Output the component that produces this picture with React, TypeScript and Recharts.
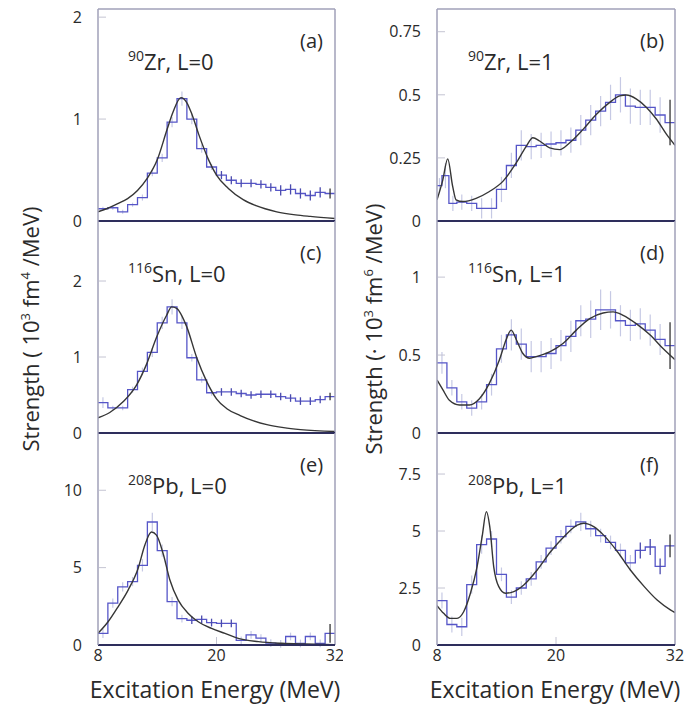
import React from 'react';
import {
  ComposedChart,
  Line,
  Scatter,
  ErrorBar,
  XAxis,
  YAxis,
  ReferenceLine,
} from 'recharts';

// Strength distributions for 90Zr / 116Sn / 208Pb, L=0 and L=1.
// Blue step histogram = measured strength per 1 MeV bin, black = fitted curve.

const FONT = '"Open Sans", "DejaVu Sans", sans-serif';

const energyTicks = [8, 20, 32];
const binEdges = [8, 9, 10, 11, 12, 13, 14, 15, 16, 17, 18, 19, 20, 21, 22, 23, 24, 25, 26, 27, 28, 29, 30, 31, 32];

// (a) 90Zr, L=0
const zr0Hist = [0.12, 0.13, 0.09, 0.16, 0.23, 0.47, 0.62, 0.97, 1.2, 1.0, 0.71, 0.53, 0.45, 0.4, 0.37, 0.37, 0.36, 0.33, 0.3, 0.31, 0.27, 0.25, 0.28, 0.27];
const zr0Err = [0.02, 0.02, 0.02, 0.02, 0.03, 0.03, 0.04, 0.05, 0.07, 0.05, 0.04, 0.03, 0.04, 0.04, 0.04, 0.04, 0.04, 0.04, 0.05, 0.05, 0.05, 0.05, 0.05, 0.05];
const zr0FitE = [8, 9, 10, 11, 12, 13, 14, 15, 15.6, 16.4, 17, 17.5, 18.2, 19.2, 20, 21.2, 22.7, 24, 26.1, 28, 29.5, 32];
const zr0FitS = [0.09, 0.125, 0.17, 0.22, 0.3, 0.42, 0.6, 0.9, 1.07, 1.21, 1.16, 1.05, 0.85, 0.6, 0.45, 0.32, 0.21, 0.15, 0.09, 0.06, 0.045, 0.025];

// (b) 90Zr, L=1
const zr1Edges = [8, 8.5, 9.2, 10, 11, 12, 13, 14, 15, 16, 17, 18, 19, 20, 21, 22, 23, 24, 25, 26, 27, 28, 29, 30, 31, 32];
const zr1Hist = [0.14, 0.18, 0.07, 0.075, 0.07, 0.05, 0.05, 0.125, 0.22, 0.3, 0.295, 0.3, 0.305, 0.31, 0.32, 0.36, 0.4, 0.435, 0.47, 0.5, 0.455, 0.45, 0.45, 0.42, 0.39];
const zr1Err = [0.03, 0.05, 0.03, 0.03, 0.03, 0.04, 0.04, 0.05, 0.05, 0.06, 0.05, 0.05, 0.05, 0.05, 0.05, 0.06, 0.06, 0.06, 0.07, 0.07, 0.07, 0.07, 0.07, 0.07, 0.09];
const zr1FitE = [8, 8.57, 9.08, 9.58, 9.92, 10.6, 11.94, 13.29, 14.64, 15.99, 17, 17.67, 18.35, 19.36, 20.37, 21.38, 22.73, 24.08, 25.42, 26.44, 27.1, 28.12, 29.13, 30.14, 31.15, 32];
const zr1FitS = [0.084, 0.16, 0.246, 0.137, 0.084, 0.077, 0.09, 0.117, 0.157, 0.23, 0.296, 0.33, 0.317, 0.29, 0.283, 0.31, 0.363, 0.423, 0.47, 0.496, 0.499, 0.483, 0.45, 0.403, 0.343, 0.3];

// (c) 116Sn, L=0
const sn0Hist = [0.4, 0.33, 0.33, 0.57, 0.81, 1.06, 1.45, 1.66, 1.45, 0.99, 0.7, 0.53, 0.54, 0.54, 0.52, 0.5, 0.51, 0.51, 0.48, 0.46, 0.42, 0.42, 0.44, 0.48];
const sn0Err = [0.07, 0.03, 0.03, 0.04, 0.05, 0.06, 0.08, 0.1, 0.08, 0.05, 0.04, 0.04, 0.05, 0.05, 0.05, 0.05, 0.05, 0.05, 0.05, 0.05, 0.05, 0.05, 0.05, 0.05];
const sn0FitE = [8, 9.19, 10.54, 11.9, 12.9, 13.93, 14.95, 15.46, 15.97, 16.98, 18, 19, 20, 21.05, 22.4, 23.76, 25.1, 26.8, 28.5, 32];
const sn0FitS = [0.2, 0.27, 0.41, 0.63, 0.9, 1.26, 1.55, 1.66, 1.64, 1.4, 0.99, 0.68, 0.45, 0.32, 0.23, 0.16, 0.11, 0.07, 0.045, 0.02];

// (d) 116Sn, L=1
const sn1Hist = [0.45, 0.29, 0.2, 0.16, 0.2, 0.31, 0.54, 0.63, 0.57, 0.49, 0.49, 0.51, 0.56, 0.62, 0.72, 0.73, 0.79, 0.79, 0.72, 0.69, 0.7, 0.66, 0.6, 0.56];
const sn1Err = [0.07, 0.05, 0.05, 0.05, 0.05, 0.07, 0.09, 0.1, 0.1, 0.1, 0.1, 0.1, 0.1, 0.1, 0.1, 0.12, 0.13, 0.12, 0.1, 0.1, 0.1, 0.1, 0.1, 0.15];
const sn1FitE = [8, 8.57, 9.25, 10.26, 11.27, 12.28, 13.29, 14.3, 14.98, 15.48, 15.99, 16.66, 17.34, 18, 19.36, 20.7, 22.05, 23.4, 24.75, 25.76, 26.77, 28.12, 29.47, 30.82, 32];
const sn1FitS = [0.34, 0.28, 0.21, 0.18, 0.18, 0.22, 0.32, 0.47, 0.6, 0.66, 0.6, 0.51, 0.48, 0.49, 0.52, 0.574, 0.66, 0.734, 0.77, 0.777, 0.755, 0.7, 0.63, 0.54, 0.47];

// (e) 208Pb, L=0
const pb0Hist = [0.75, 2.7, 3.75, 4.1, 5.15, 7.95, 6.1, 2.8, 1.7, 1.6, 1.65, 1.45, 1.4, 1.4, 0.3, 0.65, 0.45, 0.12, 0.08, 0.55, 0.1, 0.55, 0.1, 0.75];
const pb0Err = [0.3, 0.3, 0.3, 0.3, 0.4, 0.6, 0.4, 0.3, 0.25, 0.25, 0.25, 0.25, 0.25, 0.25, 0.25, 0.25, 0.25, 0.25, 0.25, 0.25, 0.25, 0.25, 0.25, 0.6];
const pb0FitE = [8, 9.02, 10.03, 11.05, 12.06, 12.74, 13.41, 13.92, 14.6, 15.28, 16.12, 17.14, 18.15, 19.5, 20.86, 22.2, 24.24, 26.6, 28.98, 32];
const pb0FitS = [0.75, 1.5, 2.47, 3.55, 4.95, 6.45, 7.3, 7.1, 5.9, 4.2, 2.9, 2.04, 1.5, 1.07, 0.75, 0.43, 0.22, 0.11, 0.06, 0.02];

// (f) 208Pb, L=1
const pb1Hist = [1.95, 0.9, 0.8, 2.65, 4.4, 4.65, 3.1, 2.1, 2.5, 2.9, 3.65, 4.25, 4.75, 5.2, 5.4, 5.1, 4.8, 4.5, 4.15, 3.6, 4.15, 4.3, 3.45, 4.35];
const pb1Err = [0.35, 0.35, 0.4, 0.4, 0.4, 0.35, 0.3, 0.3, 0.3, 0.3, 0.3, 0.3, 0.3, 0.3, 0.4, 0.35, 0.3, 0.3, 0.3, 0.35, 0.35, 0.35, 0.35, 0.5];
const pb1FitE = [8, 8.67, 9.35, 10.02, 10.69, 11.37, 12.04, 12.55, 12.98, 13.32, 13.72, 14.23, 14.9, 15.74, 16.75, 18.1, 19.45, 20.8, 22.14, 22.8, 23.8, 24.8, 26.2, 27.5, 28.9, 30.2, 31.57, 32];
const pb1FitS = [1.73, 1.39, 1.17, 1.17, 1.46, 2.27, 3.43, 4.75, 5.85, 5.19, 3.43, 2.56, 2.27, 2.34, 2.63, 3.29, 4.09, 4.75, 5.26, 5.34, 5.19, 4.82, 4.09, 3.29, 2.56, 1.97, 1.53, 1.42];

const HIST = '#5656c8';
const FIT = '#363636';
const FRAME = '#a0a0b8';
const ZERO = '#2e2e5c';
const ERR_FAINT = '#c6c9e4';
const ERR_DARK = '#4a4aae';
const ERR_LAST = '#333333';
const TEXT = '#2a2a2a';

const PLOT_TOP = 9;
const PLOT_H = 212;
const Y_GAP = 16;

const panels = [
  { id: '(a)', iso: '90', el: 'Zr', L: 'L=0', col: 0, row: 0, edges: binEdges, hist: zr0Hist, err: zr0Err, fitE: zr0FitE, fitS: zr0FitS, yMax: 2.08, yTicks: [0, 1, 2], dark: [20, 31] },
  { id: '(b)', iso: '90', el: 'Zr', L: 'L=1', col: 1, row: 0, edges: zr1Edges, hist: zr1Hist, err: zr1Err, fitE: zr1FitE, fitS: zr1FitS, yMax: 0.84, yTicks: [0, 0.25, 0.5, 0.75], dark: [99, 99] },
  { id: '(c)', iso: '116', el: 'Sn', L: 'L=0', col: 0, row: 1, edges: binEdges, hist: sn0Hist, err: sn0Err, fitE: sn0FitE, fitS: sn0FitS, yMax: 2.79, yTicks: [0, 1, 2], dark: [20, 31] },
  { id: '(d)', iso: '116', el: 'Sn', L: 'L=1', col: 1, row: 1, edges: binEdges, hist: sn1Hist, err: sn1Err, fitE: sn1FitE, fitS: sn1FitS, yMax: 1.36, yTicks: [0, 0.5, 1], dark: [99, 99] },
  { id: '(e)', iso: '208', el: 'Pb', L: 'L=0', col: 0, row: 2, edges: binEdges, hist: pb0Hist, err: pb0Err, fitE: pb0FitE, fitS: pb0FitS, yMax: 13.7, yTicks: [0, 5, 10], dark: [17, 21] },
  { id: '(f)', iso: '208', el: 'Pb', L: 'L=1', col: 1, row: 2, edges: binEdges, hist: pb1Hist, err: pb1Err, fitE: pb1FitE, fitS: pb1FitS, yMax: 9.3, yTicks: [0, 2.5, 5, 7.5], dark: [28, 30] },
];

type PanelCfg = (typeof panels)[number];

function YTick(props: any) {
  const { x, y, payload } = props;
  const axisX = x + Y_GAP;
  return (
    <g>
      <text x={x} y={y} dy="0.36em" textAnchor="end" fontSize={16} fill={TEXT} fontFamily={FONT}>
        {payload.value}
      </text>
      {payload.value !== 0 && (
        <line x1={axisX + 1} x2={axisX + 8} y1={y} y2={y} stroke="#c4c4d2" strokeWidth={1} />
      )}
    </g>
  );
}

function XTick(props: any) {
  const { x, y, payload } = props;
  const axisY = y - 5;
  return (
    <g>
      <text x={x} y={y} dy="0.71em" textAnchor="middle" fontSize={16} fill={TEXT} fontFamily={FONT}>
        {payload.value}
      </text>
      {payload.value !== 8 && payload.value !== 32 && (
        <line x1={x} x2={x} y1={axisY - 1} y2={axisY - 8} stroke="#c4c4d2" strokeWidth={1} />
      )}
    </g>
  );
}

const noDot = () => <g />;

function Panel({ p }: { p: PanelCfg }) {
  const bottom = p.row === 2;
  const left = p.col === 0 ? 0 : 343;
  const yAxisW = p.col === 0 ? 98 : 94;
  const rightM = p.col === 0 ? 8 : 11;
  const xAxisH = bottom ? 30 : 0;
  const bottomM = 16;
  const height = PLOT_TOP + PLOT_H + xAxisH + bottomM;

  const steps = p.hist.map((v, i) => ({ x: p.edges[i], y: v }));
  steps.push({ x: p.edges[p.edges.length - 1], y: p.hist[p.hist.length - 1] });

  const bars = p.hist.map((v, i) => ({
    x: (p.edges[i] + p.edges[i + 1]) / 2,
    y: v,
    err: p.err[i],
    lo: p.edges[i],
  }));
  const last = bars.slice(-1);
  const body = bars.slice(0, -1);
  const inDark = (b: { lo: number }) => b.lo >= p.dark[0] && b.lo <= p.dark[1];
  const darkBars = body.filter(inDark);
  const faintBars = body.filter((b) => !inDark(b));

  const fit = p.fitE.map((e, i) => ({ x: e, y: p.fitS[i] }));

  return (
    <div style={{ position: 'absolute', left, top: p.row * PLOT_H }}>
      <ComposedChart
        width={343}
        height={height}
        margin={{ top: PLOT_TOP, right: rightM, bottom: bottomM, left: 0 }}
      >
        <XAxis
          type="number"
          dataKey="x"
          domain={[8, 32]}
          ticks={energyTicks}
          hide={!bottom}
          height={xAxisH}
          axisLine={false}
          tickSize={0}
          tickMargin={5}
          tick={<XTick />}
          allowDataOverflow
        />
        <YAxis
          type="number"
          dataKey="y"
          domain={[0, p.yMax]}
          ticks={p.yTicks}
          width={yAxisW}
          axisLine={{ stroke: FRAME, strokeWidth: 1.5 }}
          tickSize={0}
          tickMargin={Y_GAP}
          tick={<YTick />}
          allowDataOverflow
        />

        <Scatter data={faintBars} dataKey="y" shape={noDot} isAnimationActive={false}>
          <ErrorBar dataKey="err" direction="y" width={0} stroke={ERR_FAINT} strokeWidth={1.2} isAnimationActive={false} />
        </Scatter>

        <Line
          data={steps}
          dataKey="y"
          type="stepAfter"
          stroke={HIST}
          strokeWidth={1.3}
          dot={false}
          activeDot={false}
          isAnimationActive={false}
        />

        <Scatter data={darkBars} dataKey="y" shape={noDot} isAnimationActive={false}>
          <ErrorBar dataKey="err" direction="y" width={0} stroke={ERR_DARK} strokeWidth={1.3} isAnimationActive={false} />
        </Scatter>
        <Scatter data={last} dataKey="y" shape={noDot} isAnimationActive={false}>
          <ErrorBar dataKey="err" direction="y" width={0} stroke={ERR_LAST} strokeWidth={1.3} isAnimationActive={false} />
        </Scatter>

        <Line
          data={fit}
          dataKey="y"
          type="monotone"
          stroke={FIT}
          strokeWidth={1.4}
          dot={false}
          activeDot={false}
          isAnimationActive={false}
        />

        <ReferenceLine x={32} stroke={FRAME} strokeWidth={1.5} />
        {p.row === 0 && <ReferenceLine y={p.yMax} stroke={FRAME} strokeWidth={1.5} />}
        <ReferenceLine y={0} stroke={ZERO} strokeWidth={2} />
      </ComposedChart>
    </div>
  );
}

function Sup({ children, size = 13 }: { children: React.ReactNode; size?: number }) {
  return (
    <tspan fontSize={size} dy={-9}>
      {children}
    </tspan>
  );
}

export default function App() {
  return (
    <div
      style={{
        position: 'absolute',
        left: 0,
        top: 0,
        width: 686,
        height: 706,
        overflow: 'hidden',
        background: '#fff',
        fontFamily: FONT,
      }}
    >
      {panels.map((p) => (
        <Panel key={p.id} p={p} />
      ))}

      <svg
        width={686}
        height={706}
        style={{ position: 'absolute', left: 0, top: 0, pointerEvents: 'none' }}
        fontFamily={FONT}
        fill={TEXT}
      >
        {panels.map((p) => {
          const ox = p.col === 0 ? 0 : 340;
          const oy = p.row * PLOT_H;
          return (
            <g key={p.id}>
              <text x={128 + ox} y={70 + oy} fontSize={22}>
                <Sup size={14}>{p.iso}</Sup>
                <tspan dy={9}>{`${p.el}, ${p.L}`}</tspan>
              </text>
              <text x={300 + ox} y={48 + oy} fontSize={20}>
                {p.id}
              </text>
            </g>
          );
        })}

        <text transform="translate(39,329) rotate(-90)" textAnchor="middle" fontSize={22}>
          Strength ( 10<Sup>3</Sup>
          <tspan dy={9}> fm</tspan>
          <Sup>4</Sup>
          <tspan dy={9}> /MeV)</tspan>
        </text>
        <text transform="translate(382,329) rotate(-90)" textAnchor="middle" fontSize={22}>
          Strength (· 10<Sup>3</Sup>
          <tspan dy={9}> fm</tspan>
          <Sup>6</Sup>
          <tspan dy={9}> /MeV)</tspan>
        </text>

        <text x={215} y={698} textAnchor="middle" fontSize={23}>
          Excitation Energy (MeV)
        </text>
        <text x={555} y={698} textAnchor="middle" fontSize={23}>
          Excitation Energy (MeV)
        </text>
      </svg>
    </div>
  );
}
